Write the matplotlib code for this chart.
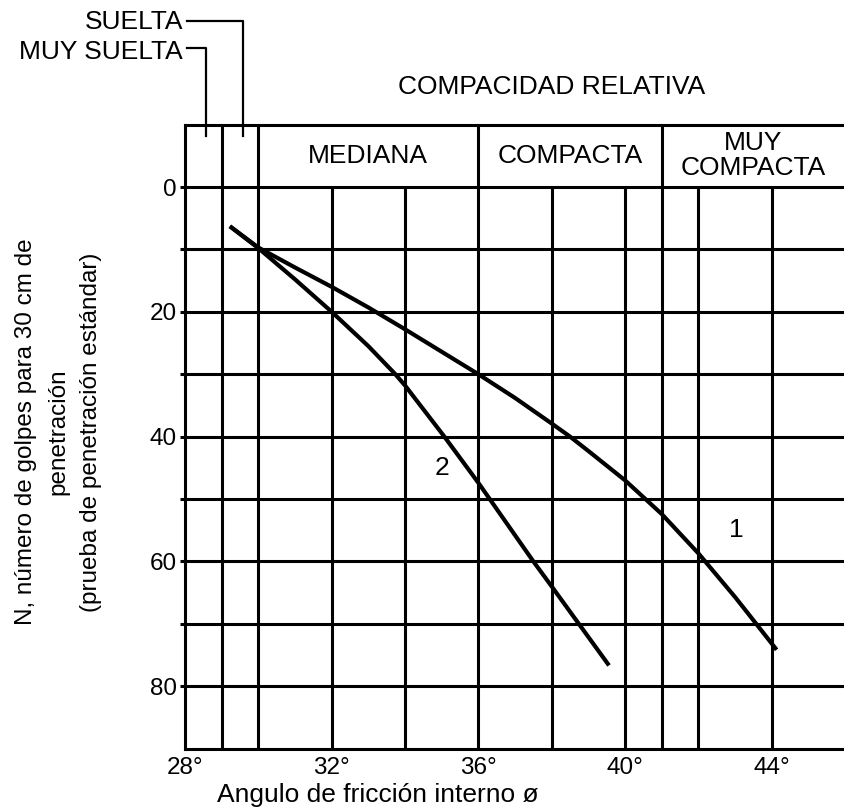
import matplotlib
matplotlib.use("Agg")
import matplotlib.pyplot as plt

plt.rcParams['font.family'] = ['Liberation Sans', 'DejaVu Sans']

# Data
curve1_x = [29.27, 30.0, 31.0, 32.0, 33.0, 34.0, 35.0, 36.0, 37.0, 38.0, 38.5, 39.0, 40.0, 41.0, 42.0, 43.0, 43.35, 44.1]
curve1_y = [6.5, 9.7, 12.9, 16.0, 19.3, 22.8, 26.4, 30.0, 33.8, 37.9, 40.0, 42.3, 47.0, 52.4, 58.7, 65.7, 68.3, 73.9]
curve2_x = [29.27, 30.0, 31.0, 32.0, 33.0, 33.72, 34.0, 35.06, 36.0, 37.0, 37.5, 38.0, 38.74, 39.53]
curve2_y = [6.5, 9.8, 14.8, 20.0, 25.5, 29.9, 31.8, 39.9, 47.4, 55.8, 60.0, 64.0, 70.0, 76.4]

x_ticks = [28, 32, 36, 40, 44]
x_ticklabels = ["28°", "32°", "36°", "40°", "44°"]
y_ticks = [0, 10, 20, 30, 40, 50, 60, 70, 80]
y_ticklabels = ["0", "", "20", "", "40", "", "60", "", "80"]

band_dividers = [29, 30, 36, 41]          # lines crossing the density band
grid_only = [32, 34, 38, 40, 42, 44]      # lines only in the chart body
h_lines = [0, 10, 20, 30, 40, 50, 60, 70, 80]

density_labels = ["MEDIANA", "COMPACTA", "MUY\nCOMPACTA"]
density_centers = [33, 38.5, 43.5]

FS = 19
FS_TICK = 17.5
LW = 2.2

fig = plt.figure(figsize=(8.45, 8.09), dpi=100)
ax = fig.add_axes([185/845, 1 - 748.6/809, 1 - 185/845, (748.6 - 124.6)/809])
ax.set_xlim(28, 46)
ax.set_ylim(90, -10)

for s in ['left', 'top', 'bottom']:
    ax.spines[s].set_linewidth(LW)
ax.spines['right'].set_visible(False)

for xv in band_dividers:
    ax.plot([xv, xv], [90, -10], color='black', lw=LW, solid_capstyle='butt', zorder=1)
for xv in grid_only:
    ax.plot([xv, xv], [90, 0], color='black', lw=LW, solid_capstyle='butt', zorder=1)
for yv in h_lines:
    ax.plot([28, 46], [yv, yv], color='black', lw=LW, solid_capstyle='butt', zorder=1)

ax.plot(curve1_x, curve1_y, color='black', lw=3.0, zorder=3, solid_joinstyle='round')
ax.plot(curve2_x, curve2_y, color='black', lw=3.0, zorder=3, solid_joinstyle='round')
ax.text(43.03, 55, "1", fontsize=FS, ha='center', va='center')
ax.text(35.0, 45, "2", fontsize=FS, ha='center', va='center')

for lab, cx in zip(density_labels, density_centers):
    ax.text(cx, -5, lab, fontsize=FS, ha='center', va='center', linespacing=1.05)

ax.text(38.0, -16, "COMPACIDAD RELATIVA", fontsize=FS, ha='center', va='center', clip_on=False)

# Leaders for loose categories
ax.text(27.95, -26.5, "SUELTA", fontsize=FS, ha='right', va='center', clip_on=False)
ax.text(27.95, -21.7, "MUY SUELTA", fontsize=FS, ha='right', va='center', clip_on=False)
ax.plot([28.05, 29.57, 29.57], [-26.6, -26.6, -8.2], color='black', lw=1.6, clip_on=False)
ax.plot([28.05, 28.57, 28.57], [-22.3, -22.3, -8.2], color='black', lw=1.6, clip_on=False)

ax.set_xticks(x_ticks)
ax.set_xticklabels(x_ticklabels, fontsize=FS_TICK)
ax.tick_params(axis='x', length=0, pad=6)
ax.set_yticks(y_ticks)
ax.set_yticklabels(y_ticklabels, fontsize=FS_TICK)
ax.tick_params(axis='y', direction='out', length=3.8, width=LW, pad=2)

fig.text(378/845, 1 - 795/809, "Angulo de fricción interno ø", fontsize=FS, ha='center', va='center')
fig.text(58.7/845, 1 - 432/809,
         "N, número de golpes para 30 cm de\npenetración\n(prueba de penetración estándar)",
         fontsize=FS_TICK, ha='center', va='center', rotation=90, multialignment='center', linespacing=1.6)

fig.savefig("out.png", dpi=100)
